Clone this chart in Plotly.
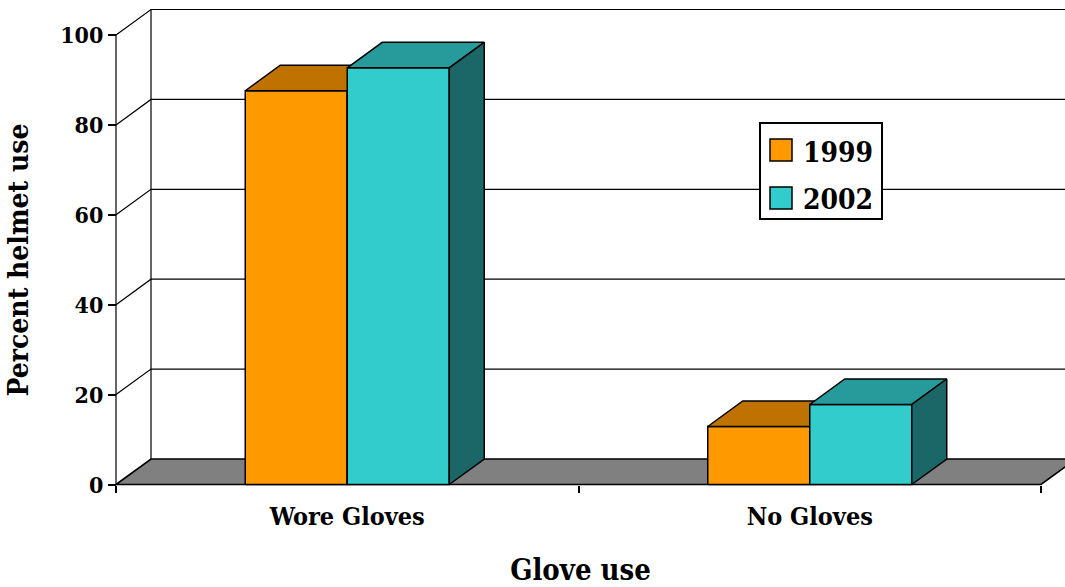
import plotly.graph_objects as go

# ---- data -------------------------------------------------------------
categories = ["Wore Gloves", "No Gloves"]
years = ["1999", "2002"]
helmet_1999 = [87.6, 12.9]
helmet_2002 = [92.7, 17.8]
y_ticks = [0, 20, 40, 60, 80, 100]
series = {"1999": helmet_1999, "2002": helmet_2002}

# ---- styling ----------------------------------------------------------
front_colors = {"1999": "#FF9900", "2002": "#33CCCC"}
top_colors = {"1999": "#C07200", "2002": "#279B9B"}
side_colors = {"1999": "#9A5C00", "2002": "#1B6666"}
FONT = "DejaVu Serif Condensed"

W, H = 1065, 587
ML, MR, MT, MB = 96, 0, 0, 67
PW, PH = W - ML - MR, H - MT - MB

px_per_cat = 462.5        # horizontal pixels per category slot
px_per_unit = 4.495       # vertical pixels per percent
axis_px = 116             # x pixel of the front value axis
zero_py = 484.5           # y pixel of the value 0 on the front axis

x_min = -(axis_px - ML) / px_per_cat
x_max = x_min + PW / px_per_cat
y_top = (zero_py - MT) / px_per_unit
y_bot = y_top - PH / px_per_unit

DX = 35 / px_per_cat      # depth offset of the 3-D box (x units)
DY = 25.5 / px_per_unit   # depth offset of the 3-D box (y units)
bar_width = 102 / px_per_cat
n_cat = len(categories)

fig = go.Figure()


def poly(xs, ys, fill, lw=1.5):
    fig.add_trace(go.Scatter(
        x=xs + [xs[0]], y=ys + [ys[0]], mode="lines", fill="toself",
        fillcolor=fill, line=dict(color="black", width=lw),
        hoverinfo="skip", showlegend=False))


# floor
poly([0, n_cat, n_cat + DX, DX], [0, 0, DY, DY], "#808080", lw=1.6)

# walls: grid lines running up the side wall and across the back wall
gx, gy = [], []
for v in y_ticks[1:]:
    gx += [0, DX, x_max + 1, None]
    gy += [v, v + DY, v + DY, None]
gx += [DX, DX, None, 0, 0]
gy += [DY, y_ticks[-1] + DY, None, 0, y_ticks[-1]]
fig.add_trace(go.Scatter(x=gx, y=gy, mode="lines",
                         line=dict(color="black", width=1.2),
                         hoverinfo="skip", showlegend=False))

# 3-D columns
for i, cat in enumerate(categories):
    center = i + 0.5
    for j, yr in enumerate(years):
        v = series[yr][i]
        x0 = center + (j - 1) * bar_width
        x1 = x0 + bar_width
        poly([x0, x1, x1, x0], [0, 0, v, v], front_colors[yr])
        poly([x0, x1, x1 + DX, x0 + DX], [v, v, v + DY, v + DY], top_colors[yr])
        poly([x1, x1 + DX, x1 + DX, x1], [0, DY, v + DY, v], side_colors[yr])

fig.update_layout(
    width=W, height=H,
    margin=dict(l=ML, r=MR, t=MT, b=MB, pad=0, autoexpand=False),
    paper_bgcolor="white", plot_bgcolor="white", showlegend=False,
    font=dict(family=FONT, color="black"),
    xaxis=dict(
        range=[x_min, x_max], showgrid=False, zeroline=False, showline=False,
        tickmode="array", tickvals=[i + 0.5 for i in range(n_cat)],
        ticktext=["<b>%s</b>" % c for c in categories], ticks="outside", ticklen=9,
        tickcolor="rgba(0,0,0,0)",
        tickfont=dict(family=FONT, size=25, color="black"),
        minor=dict(tickmode="array", tickvals=list(range(n_cat + 1)),
                   ticks="outside", ticklen=7, tickwidth=1.5,
                   tickcolor="black", showgrid=False),
        anchor="free", position=(H - MB - zero_py) / PH,
        title=dict(text="<b>Glove use</b>", standoff=30,
                   font=dict(family=FONT, size=29, color="black")),
        fixedrange=True,
    ),
    yaxis=dict(
        range=[y_bot, y_top], showgrid=False, zeroline=False, showline=False,
        tickmode="array", tickvals=y_ticks,
        ticktext=["<b>%d</b>" % t for t in y_ticks],
        ticks="outside", ticklen=8,
        tickwidth=1.5, tickcolor="black",
        tickfont=dict(family=FONT, size=23, color="black"),
        anchor="free", position=(axis_px - ML) / PW,
        title=dict(text="<b>Percent helmet use</b>", standoff=22,
                   font=dict(family=FONT, size=28, color="black")),
        fixedrange=True,
    ),
)


# legend box
def px_x(px):
    return (px - ML) / PW


def px_y(py):
    return 1 - (py - MT) / PH


fig.add_shape(type="rect", xref="paper", yref="paper",
              x0=px_x(760), x1=px_x(882), y0=px_y(219), y1=px_y(123),
              fillcolor="white", line=dict(color="black", width=2))
for k, yr in enumerate(years):
    cy = 150 + 48 * k
    fig.add_shape(type="rect", xref="paper", yref="paper",
                  x0=px_x(770), x1=px_x(792), y0=px_y(cy + 11), y1=px_y(cy - 11),
                  fillcolor=front_colors[yr], line=dict(color="black", width=1.5))
    fig.add_annotation(xref="paper", yref="paper", x=px_x(801), y=px_y(cy + 2),
                       text="<b>%s</b>" % yr, showarrow=False, xanchor="left", yanchor="middle",
                       font=dict(family=FONT, size=28, color="black"))

fig.write_html("out.html")
